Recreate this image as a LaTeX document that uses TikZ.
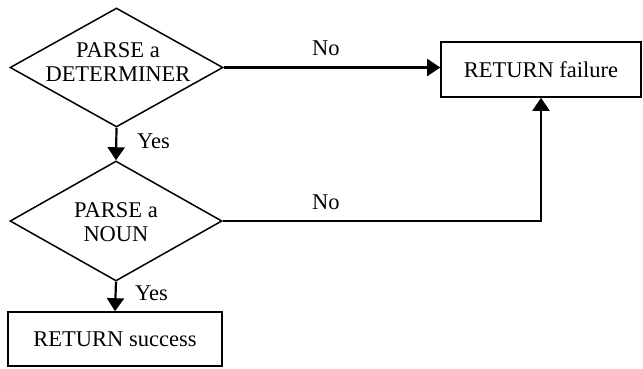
\documentclass[tikz,border=0pt]{standalone}
\usepackage{fontspec}
\setmainfont{Liberation Serif}
\usetikzlibrary{shapes.geometric,arrows.meta}
\begin{document}
\begin{tikzpicture}[x=1pt,y=-1pt,
  every node/.style={font=\fontsize{22.5}{24}\selectfont},
  decision/.style={draw,diamond,line width=1.5pt,inner sep=0pt},
  dtext/.style={inner sep=0pt,align=center},
  box/.style={draw,rectangle,line width=1.6pt,inner sep=0pt},
  conn/.style={line width=2.2pt,-{Triangle[length=13pt,width=17pt]}},
  lbl/.style={inner sep=0pt,anchor=west}]
\useasboundingbox (0,0) rectangle (643,368);
\node[decision,minimum width=213pt,minimum height=119pt] (d1) at (116.5,67.5) {};
\node[dtext] (d1t) at (118,62) {PARSE a\\DETERMINER};
\node[decision,minimum width=212pt,minimum height=120pt] (d2) at (116,221) {};
\node[dtext] (d2t) at (116,222) {PARSE a\\NOUN};
\node[box,minimum width=214pt,minimum height=54pt] (succ) at (115,339) {RETURN success};
\node[box,minimum width=200pt,minimum height=55pt] (fail) at (541,69.5) {RETURN failure};
\draw[conn] (d1.south) -- (d2.north);
\draw[conn] (d2.south) -- (succ.north);
\draw[conn] (d1.east) -- (d1.east -| fail.west);
\draw[conn] (d2.east) -| (fail.south);
\node[lbl] (y1) at (137,141) {Yes};
\node[lbl] (y2) at (135,293) {Yes};
\node[lbl] (n1) at (312,48) {No};
\node[lbl] (n2) at (312,202) {No};
\end{tikzpicture}
\end{document}
